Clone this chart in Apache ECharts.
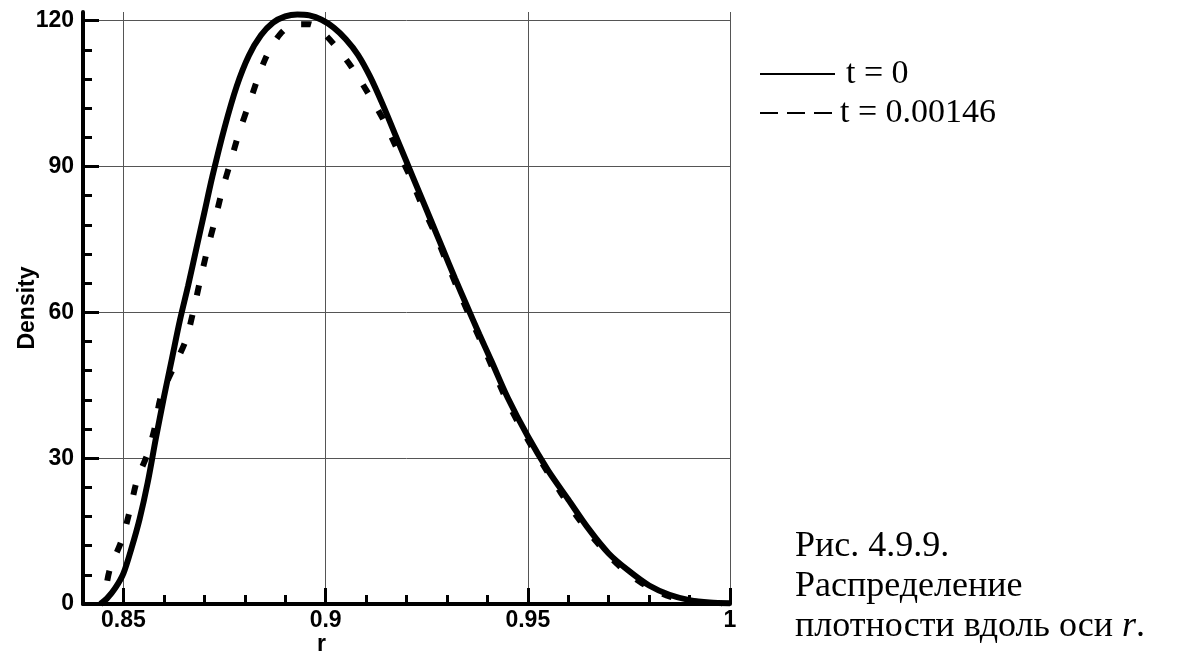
<!DOCTYPE html>
<html>
<head>
<meta charset="utf-8">
<script src="https://cdn.jsdelivr.net/npm/echarts@6/dist/echarts.min.js"></script>
<style>
  html, body { margin: 0; padding: 0; background: #fff; }
  #chart { width: 1177px; height: 657px; }
</style>
</head>
<body>
<div id="chart"></div>
<script>
// ---- data ----
const seriesNames = ['t = 0', 't = 0.00146'];

const rSolid = [0.8443, 0.846, 0.848, 0.850, 0.852, 0.854, 0.856, 0.858, 0.860, 0.862,
  0.864, 0.866, 0.868, 0.870, 0.872, 0.875, 0.878, 0.881, 0.884, 0.887,
  0.890, 0.893, 0.896, 0.899, 0.902, 0.905, 0.908, 0.911, 0.914, 0.917,
  0.920, 0.923, 0.926, 0.929, 0.932, 0.935, 0.938, 0.941, 0.945, 0.950,
  0.955, 0.960, 0.965, 0.970, 0.975, 0.980, 0.985, 0.990, 0.995, 1.000];
const dSolid = [0, 1.2, 3.3, 6.3, 11.5, 17.5, 25, 34, 42.5, 50.5,
  58.5, 65.5, 73, 80.5, 88, 98, 106.5, 112.8, 117, 119.6,
  120.9, 121.3, 121.1, 120.2, 118.6, 116.2, 113, 108.5, 103, 97,
  91, 85, 79, 73, 67, 61.2, 55.5, 50, 42.5, 34.5,
  27.5, 21.5, 15.5, 10.4, 6.8, 3.8, 1.9, 0.8, 0.3, 0.15];

const rDash = [0.8460, 0.8467, 0.8496, 0.8516, 0.8534, 0.8560, 0.8578, 0.8592, 0.8623, 0.8654,
  0.8673, 0.8689, 0.8707, 0.8726, 0.8744, 0.8765, 0.8786, 0.8811, 0.8850, 0.8887,
  0.8925, 0.8960, 0.8990, 0.9019, 0.9064, 0.9105, 0.9143, 0.9176, 0.9209, 0.9238,
  0.9270, 0.9299, 0.9328, 0.9360, 0.9400, 0.9450, 0.9500, 0.9538, 0.9580, 0.9625,
  0.9670, 0.9724, 0.9782, 0.9852, 0.9920, 0.9980];
const dDash = [4.8, 7.3, 13.2, 19.3, 25.6, 31.0, 36.5, 42.5, 48.5, 54.2,
  60.3, 66.3, 72.7, 78.9, 85.0, 91.0, 97.0, 103.0, 112.0, 117.2,
  119.3, 119.3, 117.8, 115.3, 110.5, 105.1, 99.6, 93.7, 87.9, 82.1,
  76.3, 70.4, 64.6, 58.5, 51.0, 41.5, 33.8, 28.6, 23.1, 17.6,
  12.8, 8.0, 4.3, 1.5, 0.4, 0.1];

const xMajorTicks = [0.85, 0.9, 0.95, 1];
const yMajorTicks = [0, 30, 60, 90, 120];
const xRange = [0.84, 1.0];
const yRange = [0, 121.8];
const xMinorStep = 0.01;
const yMinorStep = 6;

const captionLines = ['Рис. 4.9.9.', 'Распределение', 'плотности вдоль оси {i|r}.'];

// minor tick positions
const xMinorTicks = [];
for (let k = 0; k <= 16; k++) xMinorTicks.push(+(0.84 + k * xMinorStep).toFixed(2));
const yMinorTicks = [];
for (let v = 0; v <= 120; v += yMinorStep) yMinorTicks.push(v);

const zip = (a, b) => a.map((v, i) => [v, b[i]]);

const chart = echarts.init(document.getElementById('chart'), null, { renderer: 'canvas' });

const sans = '"Liberation Sans", Arial, sans-serif';
const serif = '"Liberation Serif", "Times New Roman", serif';
const labelFont = { fontFamily: sans, fontWeight: 'bold', fontSize: 23, color: '#000' };

chart.setOption({
  animation: false,
  backgroundColor: '#fff',
  grid: { left: 83, top: 12, right: 447, bottom: 53, containLabel: false, outerBoundsMode: 'none' },
  title: {
    text: captionLines.join('\n'),
    left: 795,
    top: 527,
    padding: 0,
    textStyle: {
      fontFamily: serif, fontSize: 36, fontWeight: 'normal', color: '#000', lineHeight: 40,
      rich: { i: { fontFamily: serif, fontSize: 36, fontStyle: 'italic', color: '#000', lineHeight: 40 } }
    }
  },
  graphic: [
    // legend
    { type: 'line', shape: { x1: 760, y1: 74, x2: 835, y2: 74 }, style: { stroke: '#000', lineWidth: 2 } },
    { type: 'text', x: 846, y: 74, style: { text: seriesNames[0], font: '34px ' + serif, fill: '#000', verticalAlign: 'middle' } },
    { type: 'line', shape: { x1: 760, y1: 113, x2: 835, y2: 113 }, style: { stroke: '#000', lineWidth: 2, lineDash: [18, 9] } },
    { type: 'text', x: 840, y: 113, style: { text: seriesNames[1], font: '34px ' + serif, fill: '#000', verticalAlign: 'middle' } },
    // x axis title
    { type: 'text', x: 317, y: 633, style: { text: 'r', font: 'bold 23px ' + sans, fill: '#000' } }
  ],
  xAxis: [
    {
      type: 'value', min: xRange[0], max: xRange[1], position: 'bottom',
      axisLine: { onZero: false, lineStyle: { color: '#000', width: 4 } },
      axisTick: { inside: true, length: 16, lineStyle: { color: '#000', width: 3 }, customValues: xMajorTicks },
      axisLabel: Object.assign({ margin: 5, customValues: xMajorTicks }, labelFont),
      splitLine: { show: true, lineStyle: { color: '#555', width: 1 } }
    },
    {
      type: 'value', min: xRange[0], max: xRange[1], position: 'bottom',
      axisLine: { show: false, onZero: false },
      axisTick: { inside: true, length: 9, lineStyle: { color: '#000', width: 3 }, customValues: xMinorTicks },
      axisLabel: { show: false },
      splitLine: { show: false }
    }
  ],
  yAxis: [
    {
      type: 'value', min: yRange[0], max: yRange[1], position: 'left',
      name: 'Density', nameLocation: 'middle', nameGap: 44, nameRotate: 90, nameMoveOverlap: false,
      nameTextStyle: labelFont,
      axisLine: { onZero: false, lineStyle: { color: '#000', width: 4 } },
      axisTick: { inside: true, length: 16, lineStyle: { color: '#000', width: 3 }, customValues: yMajorTicks },
      axisLabel: Object.assign({ margin: 9, customValues: yMajorTicks }, labelFont),
      splitLine: { show: true, lineStyle: { color: '#555', width: 1 } }
    },
    {
      type: 'value', min: yRange[0], max: yRange[1], position: 'left',
      axisLine: { show: false, onZero: false },
      axisTick: { inside: true, length: 9, lineStyle: { color: '#000', width: 3 }, customValues: yMinorTicks },
      axisLabel: { show: false },
      splitLine: { show: false }
    }
  ],
  series: [
    {
      name: seriesNames[0], type: 'line', xAxisIndex: 0, yAxisIndex: 0,
      data: zip(rSolid, dSolid), showSymbol: false, symbol: 'none', smooth: 0.3,
      lineStyle: { color: '#000', width: 6, type: 'solid' }, itemStyle: { color: '#000' }, z: 3
    },
    {
      name: seriesNames[1], type: 'line', xAxisIndex: 0, yAxisIndex: 0,
      data: zip(rDash, dDash), showSymbol: false, symbol: 'none', smooth: 0.3,
      lineStyle: { color: '#000', width: 6, type: [10, 20], cap: 'butt' }, itemStyle: { color: '#000' }, z: 4
    }
  ]
});
</script>
</body>
</html>
